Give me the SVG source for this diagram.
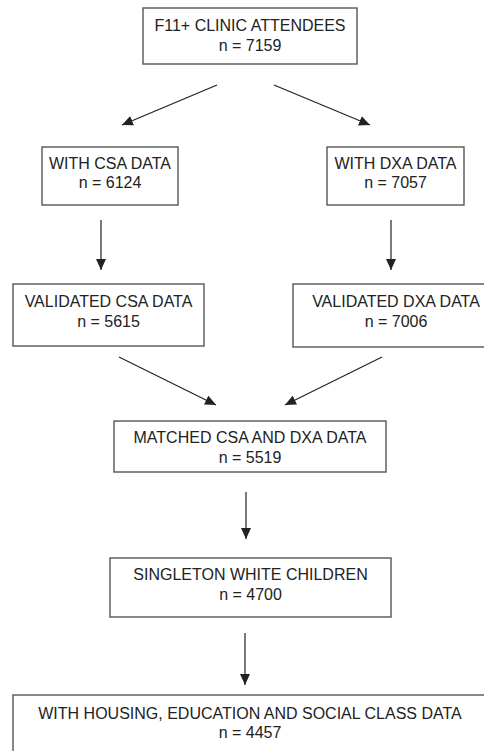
<svg xmlns="http://www.w3.org/2000/svg" width="484" height="751" viewBox="0 0 484 751">
<style>
.box{fill:#fff;stroke:#555;stroke-width:1.4}
.t{font-family:"Liberation Sans",Arial,sans-serif;font-size:16px;fill:#222;text-anchor:middle}
.c{stroke:#222;stroke-width:1.2;fill:none;marker-end:url(#ah)}
</style>
<defs>
<marker id="ah" markerUnits="userSpaceOnUse" markerWidth="12" markerHeight="10" refX="11" refY="5" orient="auto">
<path d="M0,0 L11,5 L0,10 Z" fill="#222"/>
</marker>
</defs>
<rect width="484" height="751" fill="#fff"/>
<g id="n1"><rect class="box" x="143" y="8" width="214" height="56"/><text class="t" x="250" y="31">F11+ CLINIC ATTENDEES</text><text class="t" x="250" y="51">n = 7159</text></g>
<g id="n2"><rect class="box" x="42" y="147" width="136" height="58"/><text class="t" x="110" y="169">WITH CSA DATA</text><text class="t" x="110" y="188">n = 6124</text></g>
<g id="n3"><rect class="box" x="327" y="147" width="137" height="58"/><text class="t" x="395.5" y="169">WITH DXA DATA</text><text class="t" x="395.5" y="188">n = 7057</text></g>
<g id="n4"><rect class="box" x="13" y="284" width="191" height="62"/><text class="t" x="108.5" y="307">VALIDATED CSA DATA</text><text class="t" x="108.5" y="327">n = 5615</text></g>
<g id="n5"><rect class="box" x="293" y="284" width="240" height="63"/><text class="t" x="396" y="307">VALIDATED DXA DATA</text><text class="t" x="396" y="327">n = 7006</text></g>
<g id="n6"><rect class="box" x="114" y="421" width="272" height="51"/><text class="t" x="250" y="443">MATCHED CSA AND DXA DATA</text><text class="t" x="250" y="463">n = 5519</text></g>
<g id="n7"><rect class="box" x="110" y="558" width="281" height="59"/><text class="t" x="250.5" y="580">SINGLETON WHITE CHILDREN</text><text class="t" x="250.5" y="600">n = 4700</text></g>
<g id="n8"><rect class="box" x="13" y="695" width="490" height="80"/><text class="t" x="250" y="719">WITH HOUSING, EDUCATION AND SOCIAL CLASS DATA</text><text class="t" x="250" y="738">n = 4457</text></g>
<g id="connectors">
<line class="c" x1="217" y1="85" x2="122" y2="125"/>
<line class="c" x1="274" y1="85" x2="370" y2="125"/>
<line class="c" x1="101" y1="220" x2="101" y2="270"/>
<line class="c" x1="391" y1="220" x2="391" y2="270"/>
<line class="c" x1="119" y1="357" x2="216" y2="405"/>
<line class="c" x1="382" y1="357" x2="285" y2="405"/>
<line class="c" x1="246" y1="492" x2="246" y2="539"/>
<line class="c" x1="245" y1="633" x2="245" y2="685"/>
</g>
</svg>
